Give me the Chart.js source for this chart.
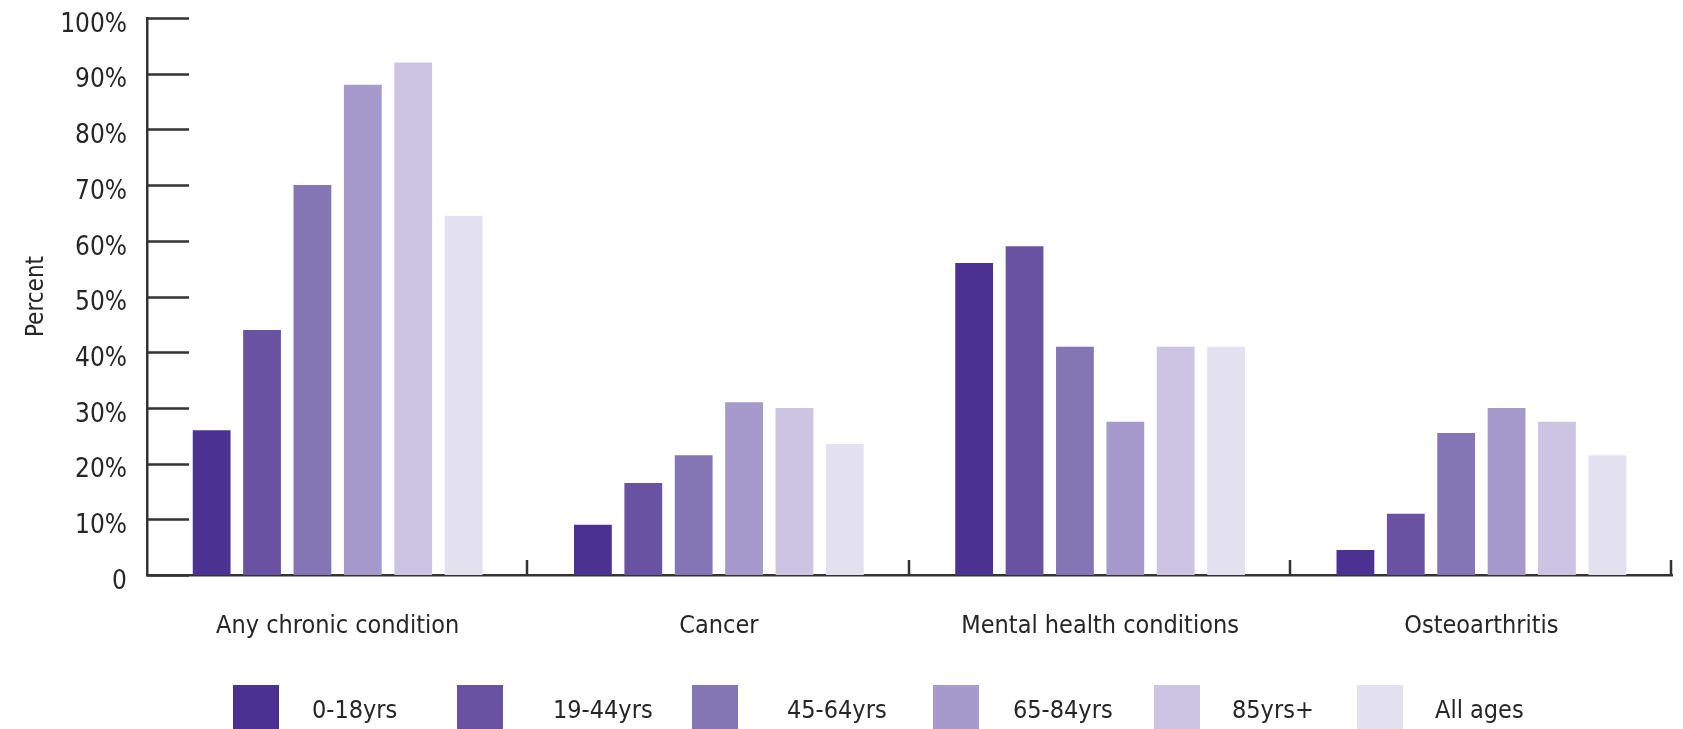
<!DOCTYPE html>
<html>
<head>
<meta charset="utf-8">
<script src="https://cdn.jsdelivr.net/npm/chart.js@4/dist/chart.umd.min.js"></script>
<style>
  html, body { margin: 0; padding: 0; background: #ffffff; }
  #wrap { width: 1683px; height: 729px; }
</style>
</head>
<body>
<div id="wrap"><canvas id="c" width="1683" height="729"></canvas></div>
<script>
// Share of people with each condition, by age group (percent)
const categories = ['Any chronic condition', 'Cancer', 'Mental health conditions', 'Osteoarthritis'];
const ageGroups = ['0-18yrs', '19-44yrs', '45-64yrs', '65-84yrs', '85yrs+', 'All ages'];

const age0to18   = [26, 9, 56, 4.5];
const age19to44  = [44, 16.5, 59, 11];
const age45to64  = [70, 21.5, 41, 25.5];
const age65to84  = [88, 31, 27.5, 30];
const age85plus  = [92, 30, 41, 27.5];
const allAges    = [64.5, 23.5, 41, 21.5];

const yTicks = [0, 10, 20, 30, 40, 50, 60, 70, 80, 90, 100];

const seriesValues = [age0to18, age19to44, age45to64, age65to84, age85plus, allAges];
const palette = ['#4b3192', '#6a52a3', '#8475b4', '#a699cc', '#cbc5e3', '#e3e0f0'];

const FONT = "'DejaVu Sans Condensed', 'Liberation Sans Narrow', sans-serif";
const TEXT = '#262626';
const AXIS = '#333333';

// Inward tick marks on both axes
const innerTicks = {
  id: 'innerTicks',
  beforeDatasetsDraw(chart) {
    const ctx = chart.ctx;
    const x = chart.scales.x, y = chart.scales.y;
    ctx.save();
    ctx.strokeStyle = AXIS;
    ctx.lineWidth = 2.5;
    ctx.beginPath();
    yTicks.forEach(v => {
      const py = Math.round(y.getPixelForValue(v)) + 0.5;
      ctx.moveTo(y.right, py);
      ctx.lineTo(y.right + 42, py);
    });
    const n = categories.length;
    for (let i = 1; i <= n; i++) {
      const px = Math.round(x.left + i * (x.width / n)) - 1;
      ctx.moveTo(px, x.top);
      ctx.lineTo(px, x.top - 15);
    }
    ctx.stroke();
    ctx.restore();
  }
};

// Legend row along the bottom edge
const legendRow = {
  id: 'legendRow',
  afterDraw(chart) {
    const ctx = chart.ctx;
    const boxX = [233, 457, 692, 933, 1154, 1357];
    const textX = [312, 553, 787, 1013, 1232, 1435];
    ctx.save();
    ctx.font = '25px ' + FONT;
    ctx.textBaseline = 'middle';
    ctx.textAlign = 'left';
    chart.data.datasets.forEach((ds, i) => {
      ctx.fillStyle = ds.backgroundColor;
      ctx.fillRect(boxX[i], 685, 46, 50);
      ctx.fillStyle = TEXT;
      ctx.fillText(ds.label, textX[i], 711);
    });
    ctx.restore();
  }
};

new Chart(document.getElementById('c'), {
  type: 'bar',
  data: {
    labels: categories,
    datasets: ageGroups.map((g, i) => ({
      label: g,
      data: seriesValues[i],
      backgroundColor: palette[i],
      borderWidth: 0,
      categoryPercentage: 0.793,
      barPercentage: 0.75
    }))
  },
  options: {
    responsive: false,
    devicePixelRatio: 1,
    animation: false,
    layout: { padding: { top: 18, right: 11, left: 0, bottom: 0 } },
    plugins: {
      legend: { display: false },
      tooltip: { enabled: false }
    },
    scales: {
      x: {
        grid: { display: false, drawTicks: false },
        border: { display: true, color: AXIS, width: 2.5 },
        ticks: {
          color: TEXT,
          font: { family: FONT, size: 25 },
          padding: 36,
          maxRotation: 0,
          autoSkip: false
        },
        afterFit(scale) { scale.height = 154; }
      },
      y: {
        min: 0,
        max: 100,
        grid: { display: false, drawTicks: false },
        border: { display: true, color: AXIS, width: 2.5 },
        ticks: {
          stepSize: 10,
          color: TEXT,
          font: { family: FONT, size: 26 },
          padding: 20,
          labelOffset: 7,
          callback: v => (v === 0 ? '0' : v + '%')
        },
        title: {
          display: true,
          text: 'Percent',
          color: TEXT,
          font: { family: FONT, size: 24 },
          padding: { top: 22, bottom: 0 }
        },
        afterFit(scale) {
          scale.width = 147;
          scale.paddingTop = 0;
          scale.paddingBottom = 0;
        }
      }
    }
  },
  plugins: [innerTicks, legendRow]
});
</script>
</body>
</html>
